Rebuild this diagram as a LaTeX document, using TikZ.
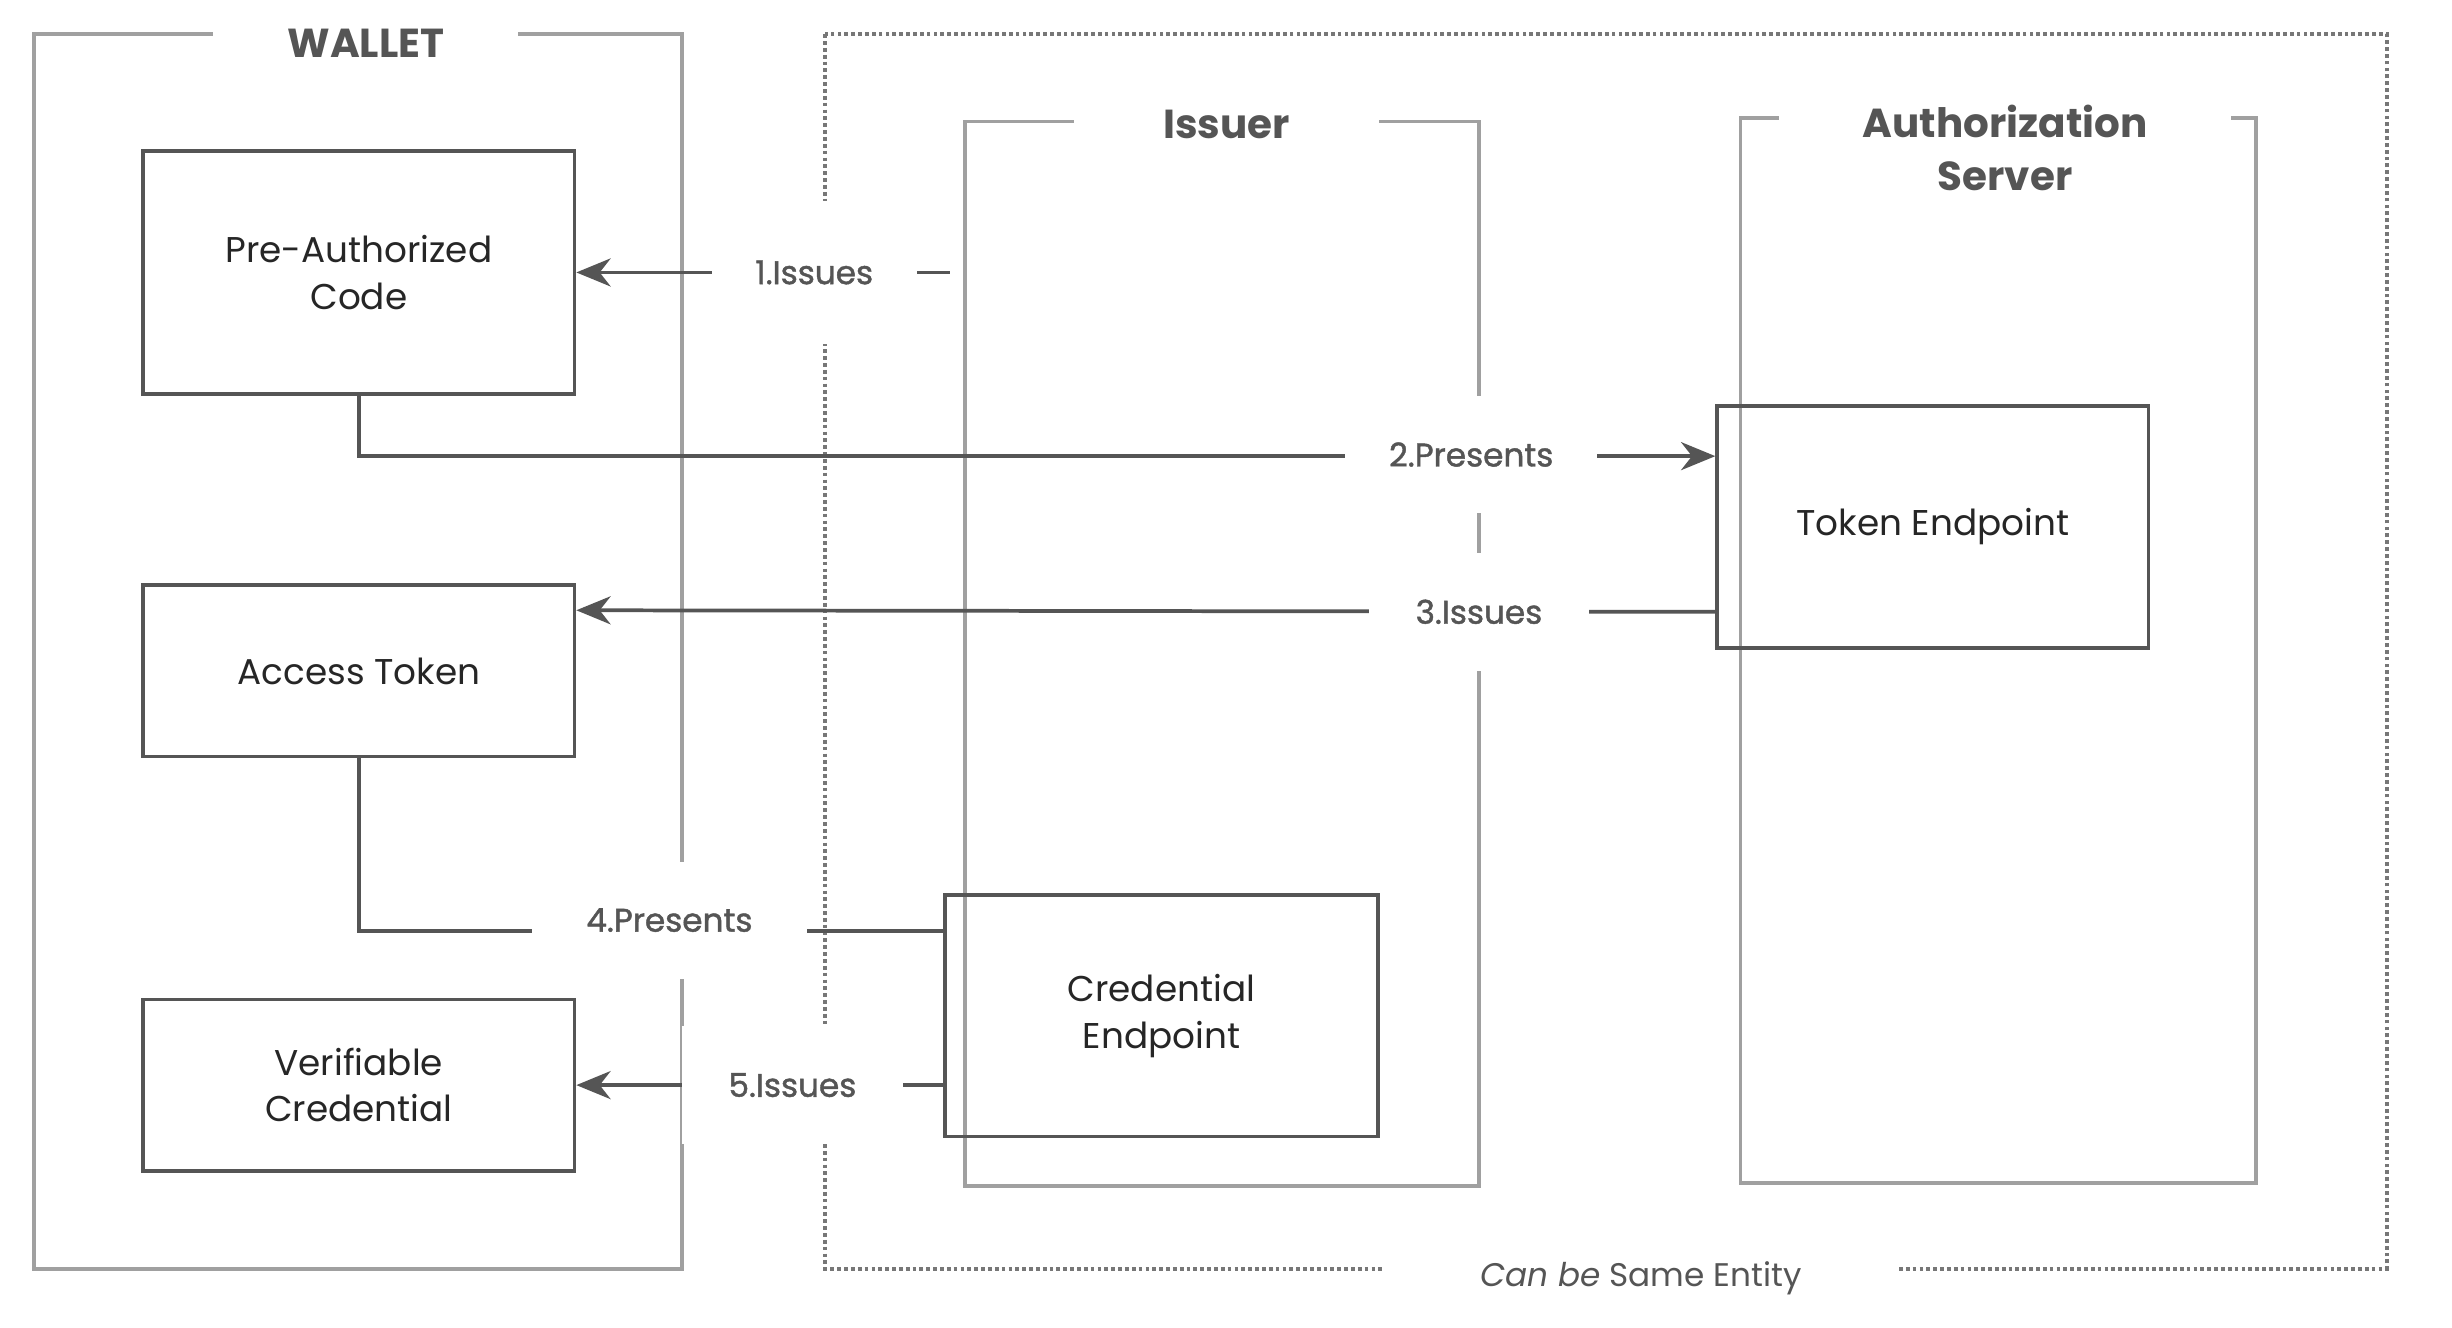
\documentclass[tikz,border=0pt]{standalone}
\usepackage{fontspec}
\setmainfont{Poppins}
\newfontfamily\labf[FakeBold=1.3]{Poppins}
\usetikzlibrary{arrows.meta}
\definecolor{dk}{HTML}{555555}
\definecolor{fr}{HTML}{A0A0A0}
\begin{document}
\begin{tikzpicture}[x=1pt,y=-1pt,
  box/.style={draw=dk,line width=2.4pt,align=center,font=\fontsize{23}{30}\selectfont,text=black!85},
  frame/.style={draw=fr,line width=2.4pt},
  conn/.style={draw=dk,line width=2.4pt},
  arr/.style={conn,-{Stealth[length=22pt,width=18pt,inset=7pt]}},
  lab/.style={fill=white,text=dk,font=\labf\fontsize{21}{26}\selectfont,inner xsep=28pt,inner ysep=38pt},
  ttl/.style={fill=white,text=dk,font=\bfseries\fontsize{26}{34}\selectfont,align=center,inner xsep=20pt}]
\useasboundingbox (0,0) rectangle (1575,853);
\fill[white] (0,0) rectangle (1575,853);
% frames
\draw[frame] (22,22) rectangle (438,815);
\draw[draw=dk!80,line width=2.4pt,dotted] (530,22) rectangle (1533,815);
\draw[frame] (620,78) rectangle (950,762);
\draw[frame] (1118,76) rectangle (1449,760);
\node[ttl,minimum width=196pt] (tw) at (235,28) {WALLET};
\node[ttl,minimum width=196pt] (ti) at (788,80) {Issuer};
\node[ttl,minimum width=290pt] (ta) at (1288,95) {Authorization\\Server};
\node[fill=white,text=dk,font=\fontsize{21}{26}\selectfont,minimum width=330pt,minimum height=30pt] (same) at (1054,821) {\textit{Can be} Same Entity};
% boxes
\node[box,minimum width=277pt,minimum height=156pt] (pre) at (230.5,175) {Pre-Authorized\\Code};
\node[box,minimum width=277pt,minimum height=110pt] (at) at (230.5,431) {Access Token};
\node[box,minimum width=277pt,minimum height=110pt] (vc) at (230.5,697) {Verifiable\\Credential};
\node[box,minimum width=277pt,minimum height=155pt] (te) at (1241.5,338.5) {Token Endpoint};
\node[box,minimum width=278pt,minimum height=155pt] (ce) at (746,652.5) {Credential\\Endpoint};
\coordinate (c1) at (610,175);
% connectors
\draw[arr] (c1) -- (pre.east);
\draw[arr] (pre.south) |- (te.west |- 0,293);
\draw[arr] (te.west |- 0,393) -- (pre.east |- 0,392);
\draw[conn] (at.south) |- (ce.west |- 0,598);
\draw[arr] (ce.west |- 0,697) -- (vc.east);
% labels
\node[lab] (l1) at (523,175) {1.Issues};
\node[lab,inner ysep=30pt] (l2) at (945,292) {2.Presents};
\node[lab,inner ysep=30pt,inner xsep=30pt] (l3) at (950,393) {3.Issues};
\node[lab,inner ysep=30pt,inner xsep=35pt] (l4) at (430,591) {4.Presents};
\node[lab,inner ysep=30pt,inner xsep=30pt] (l5) at (509,697) {5.Issues};
\end{tikzpicture}
\end{document}
